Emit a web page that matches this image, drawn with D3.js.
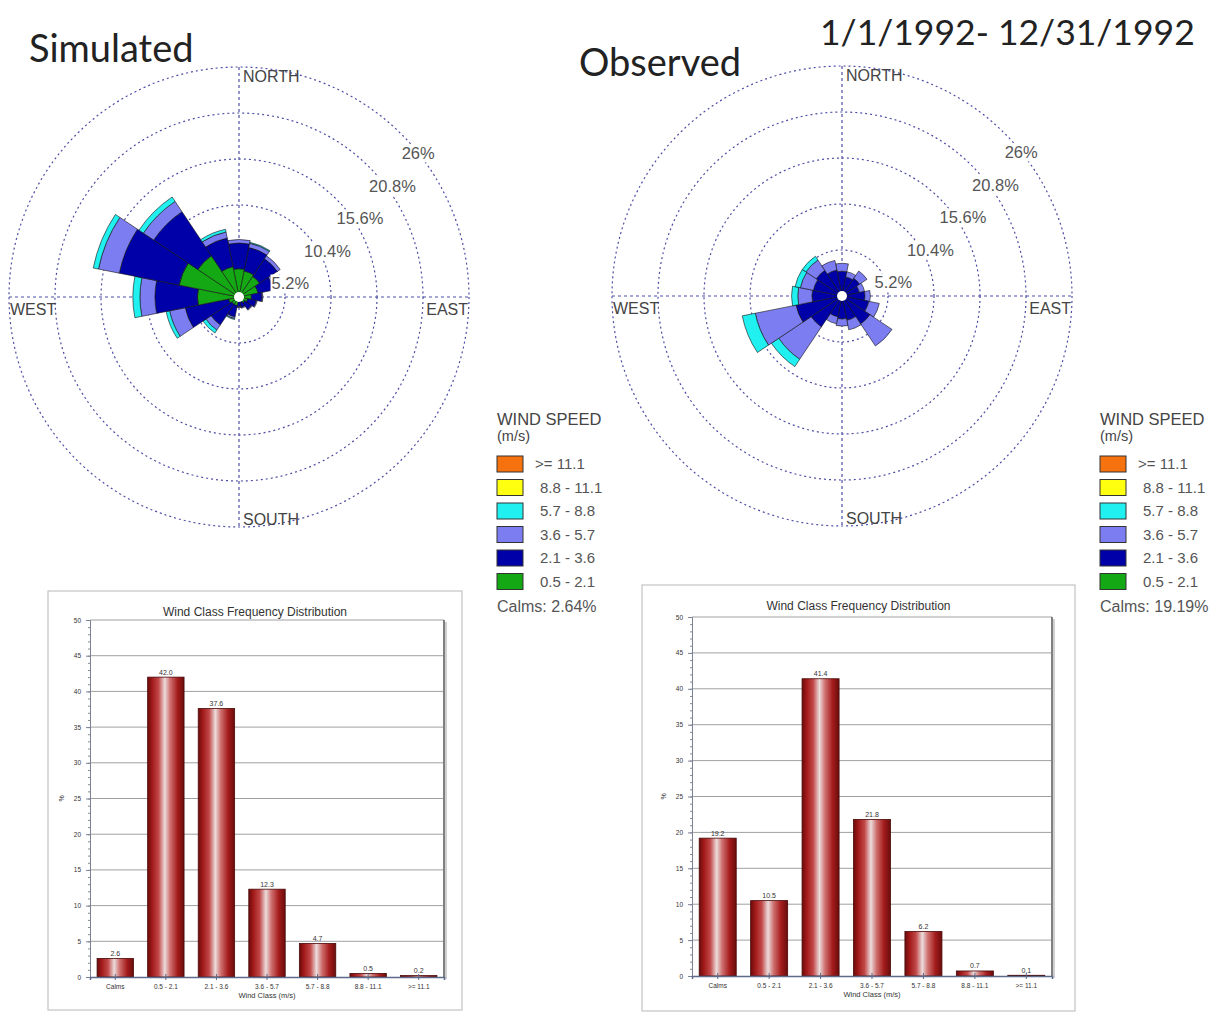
<!DOCTYPE html>
<html>
<head>
<meta charset="utf-8">
<script src="https://cdn.jsdelivr.net/npm/d3@7"></script>
<style>
  html, body { margin: 0; padding: 0; background: #fff; }
  svg { display: block; }
</style>
</head>
<body>
<svg id="chart" width="1225" height="1025"></svg>
<script>
// ---- wind direction sectors (16-point compass, clockwise from north) ----
const directions = ["N","NNE","NE","ENE","E","ESE","SE","SSE","S","SSW","SW","WSW","W","WNW","NW","NNW"];

// ---- speed classes, legend order (fastest first) ----
const speedLabels = [">= 11.1", "8.8 - 11.1", "5.7 - 8.8", "3.6 - 5.7", "2.1 - 3.6", "0.5 - 2.1"];
const speedColors = ["#f5720f", "#ffff10", "#20f0f0", "#7d7df2", "#0000a8", "#14a814"];

// ---- Simulated rose: frequency (%) per direction for each speed class ----
const simSpeed05 = [3.2, 3.0, 2.8, 2.2, 1.4, 1.0, 0.8, 0.6, 0.5, 1.0, 1.0, 1.2, 4.7, 6.9, 5.6, 3.5];
const simSpeed21 = [2.9, 2.7, 2.4, 1.8, 1.2, 1.0, 0.9, 0.6, 0.6, 1.3, 2.8, 5.0, 4.8, 6.9, 6.0, 3.3];
const simSpeed36 = [0.4, 0.5, 0.4, 0.2, 0.1, 0.1, 0.1, 0.1, 0.1, 0.2, 0.7, 1.8, 1.7, 2.4, 1.4, 0.7];
const simSpeed57 = [0.0, 0.1, 0.0, 0.0, 0.0, 0.0, 0.0, 0.0, 0.0, 0.1, 0.4, 0.4, 0.8, 0.6, 0.6, 0.3];
const simSpeed88 = [0, 0, 0, 0, 0, 0, 0, 0, 0, 0, 0, 0, 0, 0, 0, 0];
const simSpeed111 = [0, 0, 0, 0, 0, 0, 0, 0, 0, 0, 0, 0, 0, 0, 0, 0];
const simCalms = "Calms: 2.64%";

// ---- Observed rose ----
const obsSpeed05 = [0.5, 0.5, 0.5, 0.5, 0.5, 0.5, 0.5, 0.5, 0.5, 0.5, 0.5, 0.5, 0.5, 0.5, 0.5, 0.5];
const obsSpeed21 = [2.3, 1.7, 1.9, 1.5, 2.1, 2.6, 3.3, 2.3, 2.1, 1.9, 3.7, 4.8, 2.9, 2.8, 3.0, 2.5];
const obsSpeed36 = [0.9, 0.6, 1.0, 0.6, 0.6, 1.2, 3.0, 1.1, 0.8, 0.8, 4.4, 4.7, 1.6, 1.5, 1.4, 1.1];
const obsSpeed57 = [0.0, 0.0, 0.0, 0.0, 0.0, 0.0, 0.0, 0.0, 0.0, 0.0, 1.0, 1.5, 0.7, 0.6, 0.5, 0.0];
const obsSpeed88 = [0, 0, 0, 0, 0, 0, 0, 0, 0, 0, 0, 0, 0, 0, 0, 0];
const obsSpeed111 = [0, 0, 0, 0, 0, 0, 0, 0, 0, 0, 0, 0, 0, 0, 0, 0];
const obsCalms = "Calms: 19.19%";

// ---- rose rings ----
const ringValues = [5.2, 10.4, 15.6, 20.8, 26];
const ringLabels = ["5.2%", "10.4%", "15.6%", "20.8%", "26%"];

// ---- wind class frequency distribution ----
const windClasses = ["Calms", "0.5 - 2.1", "2.1 - 3.6", "3.6 - 5.7", "5.7 - 8.8", "8.8 - 11.1", ">= 11.1"];
const simFreq = [2.6, 42.0, 37.6, 12.3, 4.7, 0.5, 0.2];
const obsFreq = [19.2, 10.5, 41.4, 21.8, 6.2, 0.7, 0.1];
const freqTicks = [0, 5, 10, 15, 20, 25, 30, 35, 40, 45, 50];

const svg = d3.select("#chart");
const FONT = "'Liberation Sans', Arial, sans-serif";
const TITLE_FONT = "Lato, 'Open Sans', sans-serif";

// ---------- headings ----------
svg.append("text").attr("x", 29).attr("y", 62).attr("font-family", TITLE_FONT)
  .attr("font-size", 38).attr("fill", "#222").text("Simulated");
svg.append("text").attr("x", 579).attr("y", 76).attr("font-family", TITLE_FONT)
  .attr("font-size", 38).attr("fill", "#222").text("Observed");
svg.append("text").attr("x", 820).attr("y", 45).attr("font-family", TITLE_FONT)
  .attr("font-size", 35.5).attr("fill", "#222").text("1/1/1992- 12/31/1992");

// ---------- wind rose ----------
function drawRose(cx, cy, stacks) {
  const g = svg.append("g").attr("transform", `translate(${cx},${cy})`);
  const r = d3.scaleLinear().domain([0, 26]).range([0, 230]);
  const gridColor = "#4e4ea6";

  // dashed rings
  g.selectAll("circle.ring").data(ringValues).join("circle")
    .attr("class", "ring").attr("r", d => r(d))
    .attr("fill", "none").attr("stroke", gridColor)
    .attr("stroke-width", 1.2).attr("stroke-dasharray", "2,3");

  // dashed cross-hair
  const R = r(26);
  g.append("line").attr("x1", -R).attr("x2", R).attr("y1", 0).attr("y2", 0)
    .attr("stroke", gridColor).attr("stroke-width", 1.2).attr("stroke-dasharray", "3,3");
  g.append("line").attr("y1", -R).attr("y2", R).attr("x1", 0).attr("x2", 0)
    .attr("stroke", gridColor).attr("stroke-width", 1.2).attr("stroke-dasharray", "3,3");

  // petals: stacked sectors, slowest class at the centre
  const arc = d3.arc();
  const half = Math.PI / 16;
  const order = [5, 4, 3, 2, 1, 0]; // index into speedColors, slow -> fast
  directions.forEach((dir, i) => {
    const a = i * Math.PI / 8;
    let cum = 0;
    stacks.forEach((series, k) => {
      const v = series[i];
      if (v <= 0) return;
      g.append("path")
        .attr("d", arc({ innerRadius: r(cum), outerRadius: r(cum + v), startAngle: a - half, endAngle: a + half }))
        .attr("fill", speedColors[order[k]])
        .attr("stroke", "#111").attr("stroke-width", 0.6);
      cum += v;
    });
  });

  // calm circle
  g.append("circle").attr("r", 5).attr("fill", "#fff");

  // ring labels with a white backing
  ringValues.forEach((v, i) => {
    const d = r(v) * Math.SQRT1_2;
    const t = g.append("text").attr("x", d).attr("y", -d + 25)
      .attr("font-family", FONT).attr("font-size", 16.5).attr("fill", "#555")
      .text(ringLabels[i]);
    const bb = t.node().getBBox();
    g.insert("rect", function () { return t.node(); })
      .attr("x", bb.x - 1).attr("y", bb.y).attr("width", bb.width + 2).attr("height", bb.height)
      .attr("fill", "#fff");
  });

  // compass labels
  const lab = (x, y, txt, anchor) => g.append("text").attr("x", x).attr("y", y)
    .attr("text-anchor", anchor).attr("font-family", FONT).attr("font-size", 16)
    .attr("fill", "#444").text(txt);
  lab(4, -R + 15, "NORTH", "start");
  lab(4, R - 2, "SOUTH", "start");
  lab(-R + 1, 18, "WEST", "start");
  lab(R - 1, 18, "EAST", "end");
}

drawRose(239, 297, [simSpeed05, simSpeed21, simSpeed36, simSpeed57, simSpeed88, simSpeed111]);
drawRose(842, 296, [obsSpeed05, obsSpeed21, obsSpeed36, obsSpeed57, obsSpeed88, obsSpeed111]);

// ---------- legends ----------
function drawLegend(x, calmText) {
  const g = svg.append("g");
  g.append("text").attr("x", x).attr("y", 425).attr("font-family", FONT).attr("font-size", 16.5)
    .attr("fill", "#444").text("WIND SPEED");
  g.append("text").attr("x", x).attr("y", 441).attr("font-family", FONT).attr("font-size", 14.5)
    .attr("fill", "#444").text("(m/s)");
  speedLabels.forEach((lbl, i) => {
    const y = 456 + i * 23.5;
    g.append("rect").attr("x", x).attr("y", y).attr("width", 26).attr("height", 16)
      .attr("fill", speedColors[i]).attr("stroke", "#333").attr("stroke-width", 1);
    g.append("text").attr("x", x + (i === 0 ? 38 : 43)).attr("y", y + 13)
      .attr("font-family", FONT).attr("font-size", 15).attr("fill", "#555").text(lbl);
  });
  g.append("text").attr("x", x).attr("y", 612).attr("font-family", FONT).attr("font-size", 16)
    .attr("fill", "#555").text(calmText);
}
drawLegend(497, simCalms);
drawLegend(1100, obsCalms);

// ---------- frequency bar charts ----------
const defs = svg.append("defs");
const grad = defs.append("linearGradient").attr("id", "barShade")
  .attr("x1", "0%").attr("x2", "100%").attr("y1", "0%").attr("y2", "0%");
[["0%", "#6a0c0c"], ["12%", "#a01818"], ["30%", "#c24848"], ["47%", "#ecdcdc"],
 ["62%", "#cf7070"], ["82%", "#a51c1c"], ["100%", "#6a0c0c"]]
  .forEach(([o, c]) => grad.append("stop").attr("offset", o).attr("stop-color", c));

function drawBars(panel, plot, values) {
  const g = svg.append("g");
  g.append("rect").attr("x", panel.x).attr("y", panel.y).attr("width", panel.w).attr("height", panel.h)
    .attr("fill", "#fff").attr("stroke", "#c4c4c4").attr("stroke-width", 1.2);

  g.append("text").attr("x", panel.x + panel.w / 2).attr("y", panel.y + 25)
    .attr("text-anchor", "middle").attr("font-family", FONT).attr("font-size", 12)
    .attr("fill", "#333").text("Wind Class Frequency Distribution");

  const x = d3.scaleBand().domain(windClasses).range([plot.x0, plot.x1])
    .paddingInner(0.28).paddingOuter(0.14);
  const y = d3.scaleLinear().domain([0, 50]).range([plot.y1, plot.y0]);

  // gridlines
  g.selectAll("line.grid").data(freqTicks.filter(t => t > 0)).join("line")
    .attr("x1", plot.x0).attr("x2", plot.x1).attr("y1", d => y(d)).attr("y2", d => y(d))
    .attr("stroke", "#a0a0a0").attr("stroke-width", 1);

  // right frame with shadow
  g.append("line").attr("x1", plot.x1).attr("x2", plot.x1).attr("y1", plot.y0).attr("y2", plot.y1)
    .attr("stroke", "#808080").attr("stroke-width", 2);
  g.append("line").attr("x1", plot.x1 + 2).attr("x2", plot.x1 + 2).attr("y1", plot.y0 + 2).attr("y2", plot.y1 + 2)
    .attr("stroke", "#c0c0c0").attr("stroke-width", 1.5);

  // minor ticks on the value axis
  g.append("g").attr("transform", `translate(${plot.x0},0)`)
    .call(d3.axisLeft(y).tickValues(d3.range(0, 51, 1)).tickSize(2).tickFormat(""))
    .call(a => a.select(".domain").remove())
    .call(a => a.selectAll("line").attr("stroke", "#8a8a8a"));

  // value axis
  g.append("g").attr("transform", `translate(${plot.x0},0)`)
    .call(d3.axisLeft(y).tickValues(freqTicks).tickSize(4).tickPadding(5))
    .call(a => a.select(".domain").attr("stroke", "#7a8296"))
    .call(a => a.selectAll("line").attr("stroke", "#7a8296"))
    .call(a => a.selectAll("text").attr("font-family", FONT).attr("font-size", 6.5).attr("fill", "#333"));

  // bars
  g.selectAll("rect.bar").data(values).join("rect").attr("class", "bar")
    .attr("x", (d, i) => x(windClasses[i])).attr("width", x.bandwidth())
    .attr("y", d => y(d)).attr("height", d => y(0) - y(d))
    .attr("fill", "url(#barShade)").attr("stroke", "#4a0808").attr("stroke-width", 0.8);

  // value labels
  g.selectAll("text.val").data(values).join("text").attr("class", "val")
    .attr("x", (d, i) => x(windClasses[i]) + x.bandwidth() / 2).attr("y", d => y(d) - 2.5)
    .attr("text-anchor", "middle").attr("font-family", FONT).attr("font-size", 7)
    .attr("fill", "#333").text(d => d.toFixed(1));

  // category axis
  g.append("g").attr("transform", `translate(0,${plot.y1})`)
    .call(d3.axisBottom(x).tickSize(3).tickPadding(4))
    .call(a => a.select(".domain").attr("stroke", "#5d6a8a").attr("stroke-width", 1.5))
    .call(a => a.selectAll("line").attr("stroke", "#5d6a8a").attr("y1", -3))
    .call(a => a.selectAll("text").attr("font-family", FONT).attr("font-size", 6.5).attr("fill", "#333"));

  g.append("text").attr("x", (plot.x0 + plot.x1) / 2).attr("y", plot.y1 + 21)
    .attr("text-anchor", "middle").attr("font-family", FONT).attr("font-size", 7.5)
    .attr("fill", "#333").text("Wind Class (m/s)");

  g.append("text").attr("transform", `translate(${plot.x0 - 26},${(plot.y0 + plot.y1) / 2}) rotate(-90)`)
    .attr("text-anchor", "middle").attr("font-family", FONT).attr("font-size", 7)
    .attr("fill", "#333").text("%");
}

drawBars({ x: 48, y: 591, w: 414, h: 419 }, { x0: 90, x1: 444, y0: 620, y1: 977 }, simFreq);
drawBars({ x: 642, y: 585, w: 433, h: 426 }, { x0: 692, x1: 1052, y0: 617, y1: 976 }, obsFreq);
</script>
</body>
</html>
